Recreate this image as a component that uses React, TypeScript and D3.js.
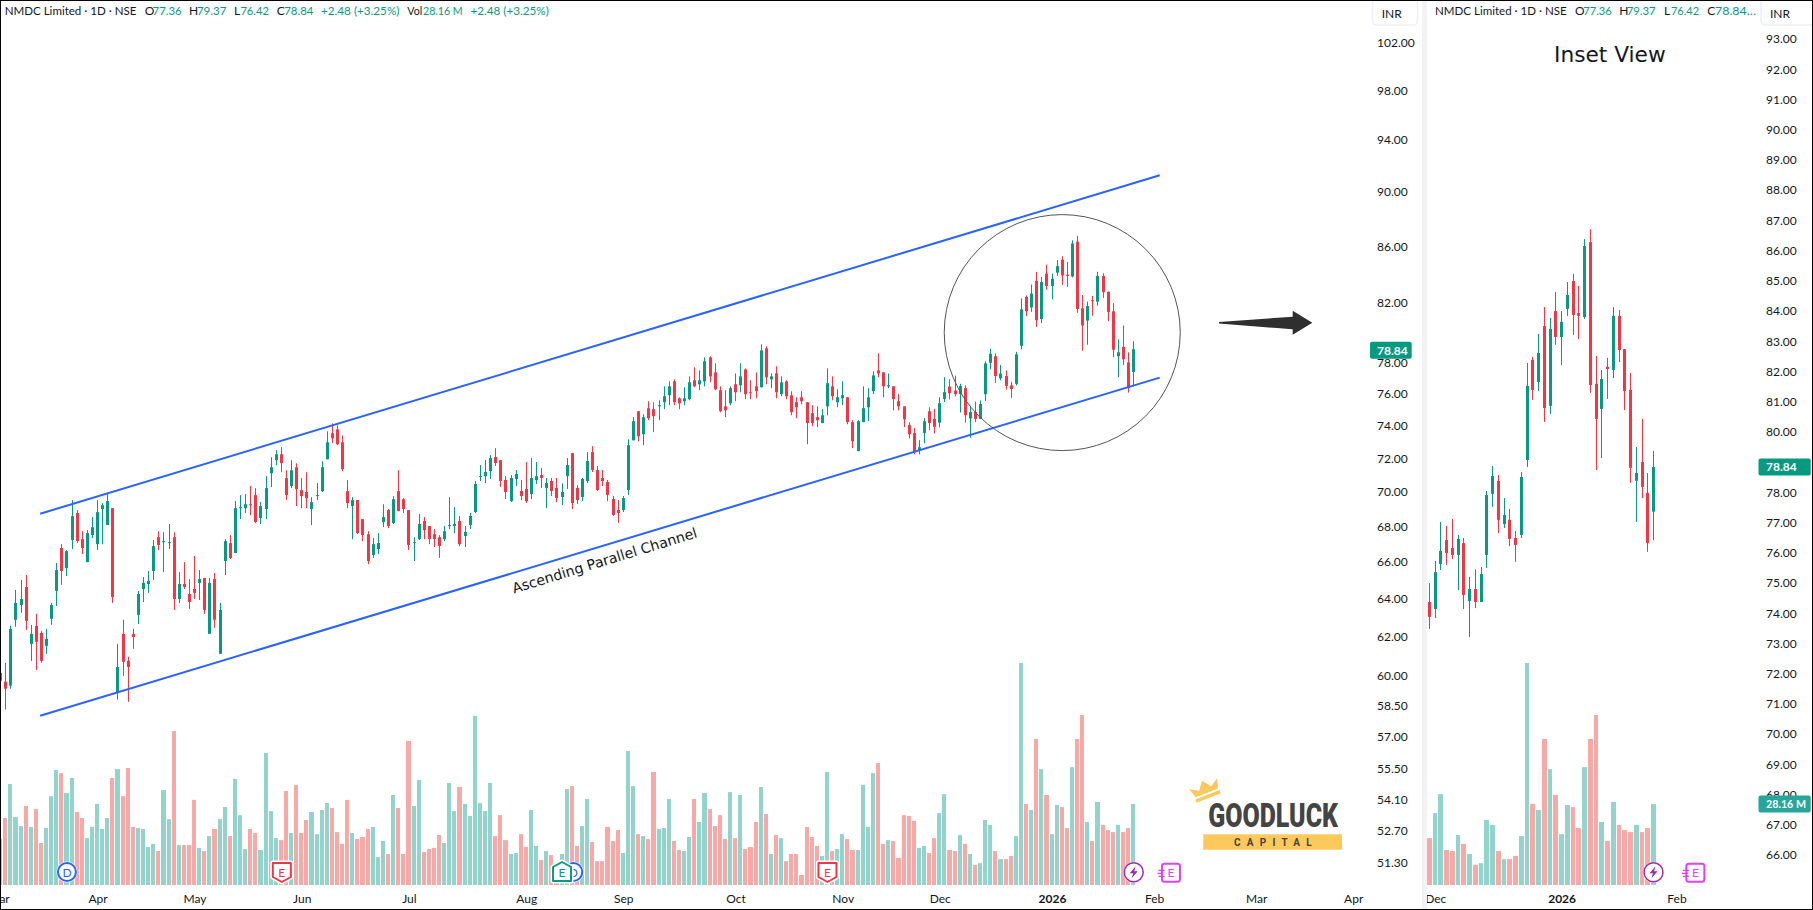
import { useEffect, useRef } from "react"
import * as d3 from "d3"

// daily candles (223 sessions, Mar 2025 - Jan 2026)
const opens = [
  59.72,59.67,59.47,62.85,63.63,64.6,61.59,62.53,62.16,61.49,
  62.9,64.39,66.74,65.63,67.19,68.73,67.24,65.96,67.47,66.96,
  68.96,68.04,69.01,59.12,62.11,60.72,62.11,63.11,64.49,64.76,
  65.47,67.35,67.07,67.02,67.35,63.95,64.76,64.22,64.49,64.82,
  65.09,62.11,65.03,61.08,66.02,67.02,66.46,69.01,69.01,69.24,
  69.77,68.44,68.96,71.06,71.84,72.2,70.77,70.3,71.42,70.06,
  69.95,68.96,69.71,70.0,71.9,73.48,73.72,72.93,70.0,69.13,
  69.48,68.38,67.52,66.35,66.69,68.21,68.9,68.15,70.0,69.53,
  68.9,67.02,67.24,68.27,67.98,67.52,67.35,67.24,67.98,67.98,
  68.27,67.42,68.05,68.79,70.83,70.89,71.19,72.03,71.85,70.66,
  69.42,70.72,70.01,70.13,69.83,70.66,70.95,70.19,70.6,70.19,
  69.66,70.89,72.27,70.19,69.66,70.6,72.33,71.25,70.78,70.54,
  69.54,68.9,68.9,70.07,73.05,74.85,73.42,75.04,74.98,75.16,
  75.42,75.86,76.75,75.67,75.48,75.61,76.82,76.56,76.75,78.31,
  77.33,76.18,75.16,75.35,76.56,76.5,77.52,76.05,76.43,76.37,
  78.9,76.88,77.26,75.93,76.75,75.86,75.42,75.73,75.42,74.73,
  74.48,74.11,75.16,76.43,75.42,75.67,75.73,74.17,72.39,74.17,
  75.1,76.12,77.46,77.33,76.43,76.43,75.48,75.16,73.98,73.49,
  72.44,73.49,74.85,
  74.37,74.14,75.63,76.42,76.16,75.93,76.32,74.4,74.8,74.37,
  75.93,77.95,78.38,76.95,77.09,76.49,76.59,79.07,82.38,81.65,
  83.5,80.86,84.0,83.14,84.07,84.99,83.93,83.8,86.28,81.59,
  80.76,82.15,82.05,83.84,82.74,81.39,78.38,79.0,77.98,77.36,
]
const highs = [
  60.3,60.62,62.53,64.44,64.98,65.25,62.58,63.16,62.27,62.37,
  63.74,65.91,66.96,66.63,69.48,68.9,67.69,67.75,68.5,69.48,
  69.3,69.89,69.01,61.59,62.85,60.93,62.37,64.39,65.14,65.47,
  67.19,67.69,67.63,68.1,67.63,65.41,65.96,65.03,66.3,65.52,
  65.09,65.09,65.36,63.74,67.24,67.47,69.42,69.77,69.83,70.3,
  70.18,69.36,70.89,72.02,72.45,72.63,71.24,71.84,71.66,70.77,
  71.12,69.65,70.48,71.78,73.6,74.09,73.97,73.35,70.65,69.65,
  69.48,68.38,67.69,67.3,67.58,69.24,68.96,69.71,71.24,69.59,
  68.9,67.35,68.67,68.5,67.98,67.81,67.47,67.98,69.65,69.07,
  68.56,67.99,68.73,70.6,71.55,71.85,72.15,72.57,71.85,70.89,
  70.95,71.25,70.66,71.73,71.97,71.73,71.37,70.78,70.78,70.78,
  70.46,71.97,72.27,70.36,70.78,72.33,72.69,71.49,71.25,70.66,
  69.72,69.48,69.72,73.11,74.48,74.85,74.66,75.48,75.42,75.54,
  76.43,76.75,76.88,75.73,76.37,77.07,77.66,77.46,78.31,78.38,
  77.92,76.43,76.18,76.43,77.26,77.92,77.59,76.82,77.33,79.17,
  79.04,77.26,77.72,77.07,76.82,76.12,75.73,76.12,75.42,75.23,
  75.16,74.98,77.59,77.07,76.24,76.75,75.73,74.29,74.29,76.43,
  76.31,77.39,78.58,77.33,77.26,76.43,75.93,75.16,74.17,73.8,
  73.06,74.42,75.1,
  75.0,75.73,77.02,76.89,77.12,76.59,76.49,75.2,75.46,75.53,
  78.04,78.87,78.57,77.81,77.45,76.72,78.67,82.28,82.48,83.24,
  84.13,83.77,84.63,84.0,84.96,85.23,84.83,86.38,86.71,82.51,
  82.05,82.45,84.13,84.03,82.74,81.95,79.5,80.43,78.64,79.37,
]
const lows = [
  59.5,58.29,59.32,62.48,63.21,62.32,60.72,60.26,60.62,61.08,
  62.58,63.58,64.71,65.2,66.69,67.02,66.41,65.96,67.3,66.63,
  66.96,68.04,63.74,58.78,59.96,58.67,61.34,62.63,63.79,64.28,
  64.98,66.63,65.41,66.69,63.37,63.74,64.49,63.42,63.95,63.9,
  63.16,62.11,62.43,61.08,65.25,66.13,66.46,68.38,68.73,68.61,
  68.15,68.1,68.38,70.24,71.54,71.12,69.48,70.18,69.13,69.01,
  69.01,68.04,69.48,69.95,71.9,72.87,72.75,71.18,69.01,67.24,
  67.52,67.13,65.85,66.19,66.41,67.92,67.86,68.1,68.84,68.73,
  66.63,66.02,67.19,67.24,66.96,66.8,66.19,67.13,67.81,67.58,
  66.85,66.8,67.82,68.73,70.6,70.48,70.72,71.49,70.25,69.54,
  69.36,70.31,69.48,69.31,69.54,70.42,70.19,69.01,69.72,69.36,
  69.19,70.13,68.96,69.25,69.42,70.48,71.13,70.01,70.31,69.42,
  68.56,68.16,68.79,69.78,73.05,72.99,72.75,74.29,73.55,74.29,
  74.98,75.23,75.23,74.98,75.23,75.54,76.37,76.18,76.43,76.69,
  76.18,74.79,74.48,75.23,75.48,76.05,75.61,75.61,75.67,76.37,
  76.56,76.31,75.67,75.8,75.61,74.6,74.42,75.29,72.81,73.92,
  73.86,74.11,74.6,75.54,75.1,75.23,74.04,72.57,72.39,74.17,
  74.23,75.93,77.01,75.73,76.31,74.91,74.91,73.86,73.17,72.2,
  72.2,72.87,73.67,
  73.48,73.84,75.43,75.6,75.79,74.77,74.14,73.21,74.17,74.37,
  75.5,77.52,76.65,76.82,76.22,75.7,76.49,78.84,81.06,81.35,
  80.33,80.59,82.88,82.21,83.84,83.21,83.07,83.74,81.29,78.74,
  79.14,81.09,81.78,82.31,80.72,78.31,77.02,77.81,76.03,76.42,
]
const closes = [
  60.11,59.32,62.37,63.74,63.95,62.79,62.11,61.7,60.72,61.85,
  63.63,65.52,65.47,66.57,68.55,67.13,66.74,67.58,67.92,68.78,
  69.18,69.42,64.06,60.41,60.67,60.41,61.95,64.22,64.82,64.93,
  66.85,66.91,67.13,67.07,63.95,64.76,64.6,63.79,64.28,65.03,
  63.37,64.82,62.85,63.37,67.13,66.19,69.01,69.07,69.24,69.18,
  68.21,69.13,70.18,71.42,72.2,71.66,69.77,71.24,70.12,69.71,
  69.59,69.36,69.77,71.42,72.93,73.17,72.81,71.3,69.3,69.48,
  67.58,67.47,66.02,66.96,67.02,68.5,67.98,69.53,68.84,68.96,
  66.91,67.07,68.1,67.75,67.24,67.24,66.85,67.69,68.04,68.1,
  66.96,67.65,68.56,70.42,70.89,71.13,71.97,71.67,70.6,69.95,
  70.78,71.01,69.72,69.42,70.78,70.89,70.78,70.48,70.01,69.6,
  69.95,71.55,69.31,69.48,70.72,71.79,71.25,70.07,70.6,69.78,
  68.62,68.73,69.6,72.75,74.23,73.3,74.48,74.42,74.54,75.23,
  75.8,76.43,75.42,75.35,75.67,76.69,76.43,76.82,78.05,77.07,
  76.24,74.85,74.91,76.31,76.05,77.07,75.93,75.99,76.12,78.77,
  77.01,77.07,76.05,76.69,75.8,74.79,75.1,75.48,74.11,74.11,
  74.29,74.6,76.63,75.8,75.73,75.86,74.17,72.99,74.23,75.04,
  75.73,77.13,77.26,76.43,76.5,75.61,75.16,74.35,73.42,72.32,
  72.63,74.23,74.11,
  73.88,75.36,76.06,75.99,75.93,76.46,74.6,74.8,74.37,75.3,
  77.91,78.54,77.09,77.25,76.46,76.26,78.51,81.52,81.39,82.61,
  80.79,83.41,83.14,83.64,84.53,83.87,83.84,86.15,81.55,80.43,
  81.75,82.08,83.84,82.71,81.35,78.81,78.64,78.18,76.32,78.84,
]
// volume in millions
const volumes = [
  16.0,23.3,35.1,23.6,20.5,27.5,20.2,26.4,14.6,19.8,
  30.9,40.0,38.9,32.0,37.2,25.4,23.3,16.3,20.2,28.2,
  19.5,23.3,37.2,40.3,30.9,40.7,20.2,19.8,19.5,13.2,
  14.3,11.8,33.0,22.9,53.5,13.9,13.9,13.9,29.6,12.9,
  11.8,17.0,19.5,22.9,27.1,17.0,36.9,24.3,12.5,19.5,
  18.1,12.2,45.9,25.7,16.3,15.6,32.7,18.1,34.8,18.1,
  22.6,25.4,17.7,26.1,28.5,26.8,18.4,14.3,29.6,18.1,
  16.0,16.7,19.5,20.2,9.7,15.3,10.8,31.3,26.8,10.8,
  50.1,27.5,36.5,11.5,12.5,12.9,17.4,14.6,35.5,25.7,
  34.1,28.2,24.0,58.8,28.5,25.7,35.5,17.0,24.3,15.6,
  10.8,11.1,17.7,13.2,26.1,13.6,8.7,11.8,10.4,7.6,
  10.8,33.4,34.4,13.6,20.5,29.9,15.0,8.3,8.3,20.2,
  15.3,19.1,11.1,46.6,34.4,17.7,17.0,16.0,39.3,19.5,
  19.8,29.9,15.3,12.2,11.8,16.7,29.9,21.9,32.0,26.4,
  20.5,24.3,16.0,32.3,16.3,31.3,12.5,13.2,21.9,34.1,
  24.7,10.8,17.4,16.3,8.3,10.8,10.8,3.5,20.2,16.7,
  13.6,10.1,39.3,11.8,12.5,17.7,16.0,12.2,12.2,34.8,
  20.2,38.9,42.4,14.3,15.6,15.3,9.4,24.3,24.0,22.3,
  12.9,13.6,11.1,
  16.3,25.0,31.6,12.2,11.8,17.4,14.3,10.8,7.0,7.6,
  22.6,20.9,11.8,9.0,9.0,10.1,17.0,77.2,28.2,26.1,
  50.8,40.3,31.3,17.7,27.8,27.1,19.8,41.0,50.8,59.1,
  21.9,15.3,28.9,20.9,19.1,18.4,20.9,18.4,19.8,28.16,
]

const priceTicks = [102, 98, 94, 90, 86, 82, 78, 76, 74, 72, 70, 68, 66, 64, 62, 60, 58.5, 57, 55.5, 54.1, 52.7, 51.3]
// 79 sits fully behind the last-price label in the inset, so it never shows
const insetTicks = [93, 92, 91, 90, 89, 88, 87, 86, 85, 84, 83, 82, 81, 80, 78, 77, 76, 75, 74, 73, 72, 71, 70, 69, 68, 67, 66]
const monthIndex = [-0.4, 19, 38, 59, 80, 103, 122, 144, 165, 184, 206, 226, 246, 265]
const monthLabels = ["Mar", "Apr", "May", "Jun", "Jul", "Aug", "Sep", "Oct", "Nov", "Dec", "2026", "Feb", "Mar", "Apr"]
const insetMonthIndex = [184, 206, 226]
const insetMonthLabels = ["Dec", "2026", "Feb"]

const insetStart = 183
const lastPrice = 78.84
const lastVolume = 28.16

// channel anchors as [session index, price]
const upperChannel: [number, number][] = [[7.75, 68.69], [227.1, 91.22]]
const lowerChannel: [number, number][] = [[7.75, 57.99], [227.1, 76.99]]
const circleCentre: [number, number] = [208, 79.95]

const UP = "#089981"
const DOWN = "#f23645"
const VOL_UP = "#92d3cc"
const VOL_DOWN = "#f7a9a7"
const TEXT = "#131722"
const FONT = "Lato, sans-serif"

type Sel = d3.Selection<SVGGElement, unknown, null, undefined>

function drawPane(g: Sel, x: d3.ScaleLinear<number, number>, y: (p: number) => number, v: d3.ScaleLinear<number, number>, from: number) {
  const idx = d3.range(from, opens.length)
  const col = (i: number) => Math.floor(x(i))

  // bars fill the slot up to a 1px gap, so width follows the pixel snapping
  g.selectAll(".vol")
    .data(idx)
    .enter()
    .append("rect")
    .attr("x", (i) => col(i) - 2)
    .attr("y", (i) => v(volumes[i]))
    .attr("width", (i) => col(i + 1) - col(i) - 1)
    .attr("height", (i) => v(0) - v(volumes[i]))
    .attr("fill", (i) => (closes[i] >= opens[i] ? VOL_UP : VOL_DOWN))

  g.selectAll(".wick")
    .data(idx)
    .enter()
    .append("rect")
    .attr("x", (i) => col(i))
    .attr("y", (i) => y(highs[i]))
    .attr("width", 1)
    .attr("height", (i) => y(lows[i]) - y(highs[i]))
    .attr("fill", (i) => (closes[i] >= opens[i] ? UP : DOWN))

  g.selectAll(".body")
    .data(idx)
    .enter()
    .append("rect")
    .attr("x", (i) => col(i) - 1)
    .attr("y", (i) => y(Math.max(opens[i], closes[i])))
    .attr("width", 3)
    .attr("height", (i) => Math.max(1, Math.abs(y(opens[i]) - y(closes[i]))))
    .attr("fill", (i) => (closes[i] >= opens[i] ? UP : DOWN))
}

function drawMonths(g: Sel, x: d3.ScaleLinear<number, number>, ticks: number[], labels: string[]) {
  const axis = g
    .append("g")
    .attr("transform", "translate(0,888)")
    .call(
      d3
        .axisBottom(x)
        .tickValues(ticks)
        .tickSize(0)
        .tickPadding(6)
        .tickFormat((_, i) => labels[i])
    )
  axis.select(".domain").remove()
  axis
    .selectAll("text")
    .style("font-family", FONT)
    .style("font-size", "12px")
    .style("fill", TEXT)
    .style("font-weight", (_, i) => (labels[i] === "2026" ? 700 : 400))
}

function pill(svg: Sel, x: number, w: number, cy: number, fill: string, label: string, tx: number, tw: number | null) {
  svg.append("rect").attr("x", x).attr("y", cy - 8.5).attr("width", w).attr("height", 17).attr("rx", 2).attr("fill", fill)
  const t = svg
    .append("text")
    .attr("x", tx)
    .attr("y", cy + 4.3)
    .style("font-family", FONT)
    .style("font-size", "12px")
    .style("font-weight", 700)
    .style("fill", "#fff")
    .text(label)
  if (tw) t.attr("textLength", tw).attr("lengthAdjust", "spacingAndGlyphs")
}

function legend(svg: Sel, parts: [string, number, number | null, string][], y: number) {
  parts.forEach(([label, x, w, color]) => {
    const t = svg
      .append("text")
      .attr("x", x)
      .attr("y", y)
      .style("font-family", FONT)
      .style("font-size", "12px")
      .style("fill", color)
      .text(label)
    if (w) t.attr("textLength", w).attr("lengthAdjust", "spacingAndGlyphs")
  })
}

function inrBox(svg: Sel, x: number, w: number, tx: number) {
  svg.append("rect").attr("x", x).attr("y", -6).attr("width", w).attr("height", 31).attr("rx", 4).attr("fill", "#fff").attr("stroke", "#eef0f5").attr("stroke-width", 1.5)
  svg.append("text").attr("x", tx).attr("y", 18).style("font-family", FONT).style("font-size", "12px").style("fill", TEXT).text("INR")
}

function letterBadge(g: Sel, cx: number, cy: number, path: string, color: string, label: string) {
  const b = g.append("g").attr("transform", `translate(${cx},${cy})`)
  b.append("path").attr("d", path).attr("fill", "#fff").attr("stroke", "#fff").attr("stroke-width", 5).attr("stroke-linejoin", "round")
  b.append("path").attr("d", path).attr("fill", "#fff").attr("stroke", color).attr("stroke-width", 2).attr("stroke-linejoin", "round")
  b.append("text").attr("text-anchor", "middle").attr("y", 4.5).style("font-family", FONT).style("font-size", "12px").style("fill", color).text(label)
}

function circleBadge(g: Sel, cx: number, cy: number, color: string, label: string) {
  const b = g.append("g").attr("transform", `translate(${cx},${cy})`)
  b.append("circle").attr("r", 10.5).attr("fill", "#fff")
  b.append("circle").attr("r", 9).attr("fill", "#fff").attr("stroke", color).attr("stroke-width", 2)
  b.append("text").attr("text-anchor", "middle").attr("y", 4.5).style("font-family", FONT).style("font-size", "12px").style("fill", color).text(label)
}

function boltBadge(g: Sel, cx: number, cy: number) {
  const b = g.append("g").attr("transform", `translate(${cx},${cy})`)
  b.append("circle").attr("r", 10.5).attr("fill", "#fff")
  b.append("circle").attr("r", 9.5).attr("fill", "#fff").attr("stroke", "#9c27b0").attr("stroke-width", 1.5)
  b.append("path").attr("d", "M2,-6 L-4,1 L-0.5,1 L-2,6 L4,-1 L0.5,-1 Z").attr("fill", "#9c27b0")
}

function futureEarnings(g: Sel, cx: number, cy: number) {
  const color = "#e040fb"
  const b = g.append("g").attr("transform", `translate(${cx},${cy})`)
  b.append("rect").attr("x", -10.5).attr("y", -10.5).attr("width", 21).attr("height", 21).attr("fill", "#fff")
  b.append("rect").attr("x", -8.5).attr("y", -8.5).attr("width", 18).attr("height", 18).attr("rx", 2.5).attr("fill", "#fff").attr("stroke", color).attr("stroke-width", 2)
  b.append("path").attr("d", "M-12,-2 h6 M-13,1 h6 M-12,4 h6").attr("stroke", color).attr("stroke-width", 1.2)
  b.append("text").attr("x", 0.5).attr("text-anchor", "middle").attr("y", 4.5).style("font-family", FONT).style("font-size", "12px").style("fill", color).text("E")
}

function drawLogo(svg: Sel) {
  const gold = "#fdc95c"
  const crown = svg.append("g").attr("transform", "translate(1206,791) rotate(-21)")
  crown.append("path").attr("d", "M-12,2 L-15,-8 L-6.5,-2.5 L0,-11 L6.5,-2.5 L15,-8 L12,2 Z").attr("fill", gold)
  crown.append("rect").attr("x", -13).attr("y", 4).attr("width", 26).attr("height", 3.5).attr("fill", gold)
  svg
    .append("text")
    .attr("x", 1208.2)
    .attr("y", 826.7)
    .attr("textLength", 129.8)
    .attr("lengthAdjust", "spacingAndGlyphs")
    .style("font-family", "Roboto, sans-serif")
    .style("font-size", "33.5px")
    .style("font-weight", 900)
    .style("fill", "#444")
    .text("GOODLUCK")
  svg.append("rect").attr("x", 1203.3).attr("y", 834.3).attr("width", 138.7).attr("height", 15.4).attr("fill", gold)
  svg
    .append("text")
    .attr("x", 1234)
    .attr("y", 845.5)
    .attr("textLength", 77.7)
    .style("font-family", "Roboto, sans-serif")
    .style("font-size", "10px")
    .style("font-weight", 700)
    .style("fill", "#444")
    .text("CAPITAL")
}

export default function App() {
  const ref = useRef<SVGSVGElement>(null)

  useEffect(() => {
    if (!ref.current) return
    const root = d3.select(ref.current)
    root.selectAll("*").remove()
    const svg = root.append("g") as unknown as Sel

    svg.append("rect").attr("width", 1813).attr("height", 910).attr("fill", "#fff")

    const yMain = d3.scaleLog().domain([51.3, 102]).range([862, 42])
    const yInset = d3.scaleLinear().domain([66, 93]).range([855, 39])
    const vol = d3.scaleLinear().domain([0, 77.2]).range([885, 663])
    const xMain = d3.scaleLinear().domain([0, 222]).range([0.6, 1133.7])
    const xInset = d3.scaleLinear().domain([insetStart, 222]).range([1429.5, 1653.5])

    const defs = svg.append("defs")
    defs.append("clipPath").attr("id", "main-clip").append("rect").attr("x", 0).attr("y", 0).attr("width", 1370).attr("height", 910)
    defs.append("clipPath").attr("id", "inset-clip").append("rect").attr("x", 1427).attr("y", 0).attr("width", 330).attr("height", 910)

    // gutter between the two panes
    svg.append("rect").attr("x", 1422).attr("y", 0).attr("width", 5.3).attr("height", 910).attr("fill", "#f3f3f3")

    const main = svg.append("g").attr("clip-path", "url(#main-clip)") as unknown as Sel
    drawPane(main, xMain, (p) => yMain(p), vol, 0)
    drawMonths(main, xMain, monthIndex, monthLabels)

    const inset = svg.append("g").attr("clip-path", "url(#inset-clip)") as unknown as Sel
    drawPane(inset, xInset, (p) => yInset(p), vol, insetStart)
    drawMonths(inset, xInset, insetMonthIndex, insetMonthLabels)

    // channel and circle drawings
    const channel = d3
      .line<[number, number]>()
      .x((d) => xMain(d[0]))
      .y((d) => yMain(d[1]))
    ;[upperChannel, lowerChannel].forEach((c) => {
      main.append("path").attr("d", channel(c)).attr("fill", "none").attr("stroke", "#2962ff").attr("stroke-width", 2)
    })
    main
      .append("circle")
      .attr("cx", xMain(circleCentre[0]))
      .attr("cy", yMain(circleCentre[1]))
      .attr("r", 118)
      .attr("fill", "none")
      .attr("stroke", "#555")
      .attr("stroke-width", 1)

    main
      .append("text")
      .attr("transform", "translate(604.5,560.5) rotate(-17)")
      .attr("text-anchor", "middle")
      .attr("dy", "0.35em")
      .style("font-family", "'DejaVu Sans', sans-serif")
      .style("font-size", "14.2px")
      .style("fill", TEXT)
      .text("Ascending Parallel Channel")

    // event badges
    const downTag = "M-9,-9 H9 V5 L0,10 L-9,5 Z"
    const upTag = "M-9,9 H9 V-5 L0,-10 L-9,-5 Z"
    circleBadge(main, xMain(13), 872, "#2962ff", "D")
    letterBadge(main, xMain(55.1), 872, downTag, DOWN, "E")
    circleBadge(main, xMain(112.2), 872, "#2962ff", "D")
    letterBadge(main, xMain(110), 872, upTag, UP, "E")
    letterBadge(main, xMain(162), 872, downTag, DOWN, "E")
    boltBadge(main, xMain(222), 872.3)
    futureEarnings(main, xMain(229.2), 872.3)
    boltBadge(inset, xInset(222), 872.3)
    futureEarnings(inset, xInset(229.2), 872.3)

    // price axes
    const mainAxis = svg
      .append("g")
      .attr("transform", "translate(1377,0.7)")
      .call(d3.axisRight(yMain).tickValues(priceTicks).tickSize(0).tickPadding(0).tickFormat(d3.format(".2f")))
    const insetAxis = svg
      .append("g")
      .attr("transform", "translate(1766,0)")
      .call(d3.axisRight(yInset).tickValues(insetTicks).tickSize(0).tickPadding(0).tickFormat(d3.format(".2f")))
    ;[mainAxis, insetAxis].forEach((a) => {
      a.select(".domain").remove()
      a.selectAll("text").style("font-family", FONT).style("font-size", "12px").style("fill", TEXT)
    })

    pill(svg, 1370, 41.7, yMain(lastPrice) + 1, UP, lastPrice.toFixed(2), 1377, null)
    pill(svg, 1758.5, 52.2, yInset(lastPrice), UP, lastPrice.toFixed(2), 1766, null)
    pill(svg, 1758.5, 52.2, vol(lastVolume), "#26a69a", `${lastVolume.toFixed(2)} M`, 1766, 40)

    inrBox(svg, 1372.5, 45, 1381.7)
    inrBox(svg, 1761, 60, 1770)

    // legends
    legend(
      svg,
      [
        ["NMDC Limited · 1D · NSE", 4.7, 131.7, TEXT],
        ["O", 144.7, null, TEXT],
        ["77.36", 152.6, 29, UP],
        ["H", 189, null, TEXT],
        ["79.37", 196.9, 29.5, UP],
        ["L", 234, null, TEXT],
        ["76.42", 240.4, 28.5, UP],
        ["C", 276.8, null, TEXT],
        ["78.84", 284.3, 29, UP],
        ["+2.48 (+3.25%)", 321, 78.4, UP],
        ["Vol", 407.3, 15, TEXT],
        ["28.16 M", 423, 39.6, UP],
        ["+2.48 (+3.25%)", 470.5, 78.3, UP],
      ],
      15
    )
    legend(
      svg,
      [
        ["NMDC Limited · 1D · NSE", 1435, 131.7, TEXT],
        ["O", 1575, null, TEXT],
        ["77.36", 1583.3, 28.3, UP],
        ["H", 1619.3, null, TEXT],
        ["79.37", 1626.7, 29, UP],
        ["L", 1664, null, TEXT],
        ["76.42", 1671, 28, UP],
        ["C", 1707.3, null, TEXT],
        ["78.84…", 1715, 41, UP],
      ],
      15
    )

    svg
      .append("text")
      .attr("x", 1554)
      .attr("y", 62)
      .style("font-family", "'DejaVu Sans', sans-serif")
      .style("font-size", "21.7px")
      .style("fill", TEXT)
      .text("Inset View")

    // arrow between the panes
    svg
      .append("path")
      .attr("d", "M1219,322 L1292.7,316.7 L1292.7,310.7 L1312.3,322.7 L1292.7,334.7 L1292.7,329.3 L1219,323.5 Z")
      .attr("fill", "#2f2f2f")

    drawLogo(svg)

    // outer frame of the screenshot
    svg.append("rect").attr("x", 0.5).attr("y", 0.5).attr("width", 1812).attr("height", 909).attr("fill", "none").attr("stroke", "#000").attr("stroke-width", 1)
  }, [])

  return <svg ref={ref} width={1813} height={910} style={{ position: "fixed", left: 0, top: 0 }} />
}
